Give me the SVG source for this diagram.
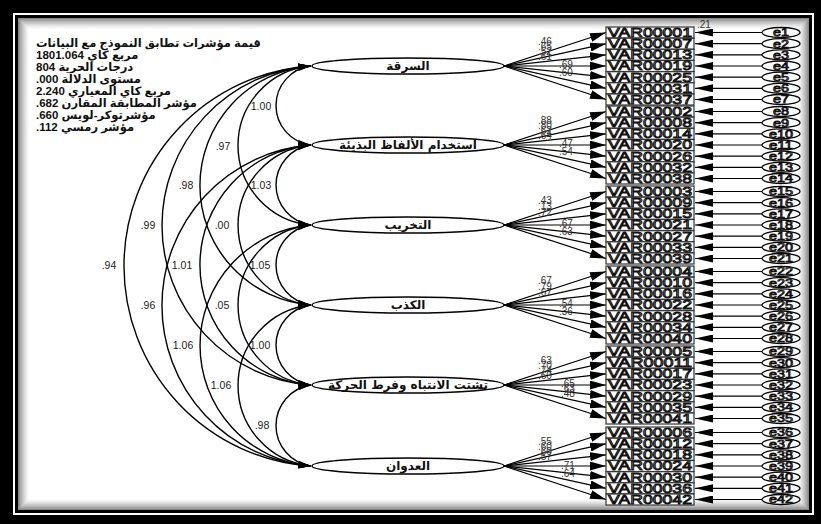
<svg xmlns="http://www.w3.org/2000/svg" width="821" height="524" viewBox="0 0 821 524">
<defs>
<style>
.fit{font-family:"Liberation Sans","DejaVu Sans",sans-serif;font-size:11.5px;font-weight:bold;fill:#111;}
.lat{fill:#fff;stroke:#000;stroke-width:1.5;}
.latt{font-family:"DejaVu Sans",sans-serif;font-size:12px;font-weight:bold;fill:#111;text-anchor:middle;}
.box{fill:#fff;stroke:#333;stroke-width:1.2;}
.boxt{font-family:"Liberation Sans",sans-serif;font-size:12.5px;fill:#fff;stroke:#111;stroke-width:0.9;}
.err{fill:#fff;stroke:#000;stroke-width:1.3;}
.errt{font-family:"Liberation Sans",sans-serif;font-size:10.5px;fill:#fff;stroke:#111;stroke-width:0.8;text-anchor:middle;}
.ln{fill:none;stroke:#000;stroke-width:1.2;}
.ld{marker-end:url(#ah);}
.el{marker-end:url(#ae);}
.cv{fill:none;stroke:#000;stroke-width:1.4;marker-start:url(#ac);marker-end:url(#ac);}
.lbl{font-family:"Liberation Sans",sans-serif;font-size:10px;fill:#333;}
.clbl{font-family:"Liberation Sans",sans-serif;font-size:10.5px;fill:#222;text-anchor:middle;}
</style>
<marker id="ah" markerUnits="userSpaceOnUse" markerWidth="16" markerHeight="9" refX="16" refY="4.5" orient="auto"><path d="M0,0 L16,4.5 L0,9 z" fill="#000"/></marker>
<marker id="ae" markerUnits="userSpaceOnUse" markerWidth="18" markerHeight="8" refX="18" refY="4" orient="auto"><path d="M0,0 L18,4 L0,8 z" fill="#000"/></marker>
<marker id="ac" markerUnits="userSpaceOnUse" markerWidth="13" markerHeight="7" refX="13" refY="3.5" orient="auto-start-reverse"><path d="M0,0 L13,3.5 L0,7 z" fill="#000"/></marker>
</defs>

<g id="frame">
<rect width="821" height="524" fill="#000"/>
<rect x="13" y="13" width="801" height="502" fill="#fff"/>
<rect x="15" y="15" width="797" height="498" fill="#000"/>
<rect x="18" y="18" width="791" height="492" fill="#fff"/>
<g fill="none" stroke-width="1">
<rect x="18.5" y="18.5" width="790" height="491" stroke="#8a8a8a"/>
<rect x="19.5" y="19.5" width="788" height="489" stroke="#999"/>
<rect x="20.5" y="20.5" width="786" height="487" stroke="#a8a8a8"/>
<rect x="21.5" y="21.5" width="784" height="485" stroke="#b5b5b5"/>
<rect x="22.5" y="22.5" width="782" height="483" stroke="#c2c2c2"/>
<rect x="23.5" y="23.5" width="780" height="481" stroke="#cecece"/>
<rect x="24.5" y="24.5" width="778" height="479" stroke="#d9d9d9"/>
<rect x="25.5" y="25.5" width="776" height="477" stroke="#e3e3e3"/>
<rect x="26.5" y="26.5" width="774" height="475" stroke="#ececec"/>
<rect x="27.5" y="27.5" width="772" height="473" stroke="#f4f4f4"/>
<rect x="28.5" y="28.5" width="770" height="471" stroke="#fafafa"/>
</g>
</g>

<g id="fit" class="fit" direction="rtl" text-anchor="end">
<text x="36" y="47">قيمة مؤشرات تطابق النموذج مع البيانات</text>
<text x="36" y="59">مربع كاي 1801.064</text>
<text x="36" y="71">درجات الحرية 804</text>
<text x="36" y="83">مستوى الدلالة &#x2066;.000&#x2069;</text>
<text x="36" y="95">مربع كاي المعياري  2.240</text>
<text x="36" y="107">مؤشر المطابقة المقارن &#x2066;.682&#x2069;</text>
<text x="36" y="119">مؤشرتوكر-لويس &#x2066;.660&#x2069;</text>
<text x="36" y="131">مؤشر رمسي &#x2066;.112&#x2069;</text>
</g>

<g id="connectors">
<path class="cv" d="M311,66 A39.79,39.79 0 0 0 311,145"/>
<path class="cv" d="M311,145 A40.36,40.36 0 0 0 311,225"/>
<path class="cv" d="M311,225 A40.36,40.36 0 0 0 311,305"/>
<path class="cv" d="M311,305 A40.36,40.36 0 0 0 311,385"/>
<path class="cv" d="M311,385 A40.93,40.93 0 0 0 311,466"/>
<path class="cv" d="M311,66 A79.79,79.79 0 0 0 311,225"/>
<path class="cv" d="M311,145 A80.34,80.34 0 0 0 311,305"/>
<path class="cv" d="M311,225 A80.34,80.34 0 0 0 311,385"/>
<path class="cv" d="M311,305 A80.89,80.89 0 0 0 311,466"/>
<path class="cv" d="M311,66 A119.82,119.82 0 0 0 311,305"/>
<path class="cv" d="M311,145 A120.36,120.36 0 0 0 311,385"/>
<path class="cv" d="M311,225 A120.91,120.91 0 0 0 311,466"/>
<path class="cv" d="M311,66 A159.87,159.87 0 0 0 311,385"/>
<path class="cv" d="M311,145 A160.94,160.94 0 0 0 311,466"/>
<path class="cv" d="M311,66 A200.45,200.45 0 0 0 311,466"/>
<g class="clbl">
<text x="261" y="110">1.00</text>
<text x="261" y="189">1.03</text>
<text x="260" y="269">1.05</text>
<text x="260" y="349">1.00</text>
<text x="262" y="429">.98</text>
<text x="223" y="150">.97</text>
<text x="222" y="229">.00</text>
<text x="222" y="309">.05</text>
<text x="221" y="389">1.06</text>
<text x="186" y="189">.98</text>
<text x="182" y="269">1.01</text>
<text x="183" y="349">1.06</text>
<text x="148" y="229">.99</text>
<text x="148" y="309">.96</text>
<text x="109" y="269">.94</text>
</g>
<g class="ln ld">
<path d="M504,66 L606,32.5"/><path d="M504,66 L606,43.7"/><path d="M504,66 L606,54.8"/><path d="M504,66 L606,66"/><path d="M504,66 L606,77.2"/><path d="M504,66 L606,88.3"/><path d="M504,66 L606,99.5"/>
<path d="M504,145 L606,111.5"/><path d="M504,145 L606,122.7"/><path d="M504,145 L606,133.8"/><path d="M504,145 L606,145"/><path d="M504,145 L606,156.2"/><path d="M504,145 L606,167.3"/><path d="M504,145 L606,178.5"/>
<path d="M504,225 L606,191.5"/><path d="M504,225 L606,202.7"/><path d="M504,225 L606,213.8"/><path d="M504,225 L606,225"/><path d="M504,225 L606,236.2"/><path d="M504,225 L606,247.3"/><path d="M504,225 L606,258.5"/>
<path d="M504,305 L606,271.5"/><path d="M504,305 L606,282.7"/><path d="M504,305 L606,293.8"/><path d="M504,305 L606,305"/><path d="M504,305 L606,316.2"/><path d="M504,305 L606,327.3"/><path d="M504,305 L606,338.5"/>
<path d="M504,385 L606,351.5"/><path d="M504,385 L606,362.7"/><path d="M504,385 L606,373.8"/><path d="M504,385 L606,385"/><path d="M504,385 L606,396.2"/><path d="M504,385 L606,407.3"/><path d="M504,385 L606,418.5"/>
<path d="M504,466 L606,432.5"/><path d="M504,466 L606,443.7"/><path d="M504,466 L606,454.8"/><path d="M504,466 L606,466"/><path d="M504,466 L606,477.2"/><path d="M504,466 L606,488.3"/><path d="M504,466 L606,499.5"/>
</g>
<g class="lbl">
<text x="538" y="45">.46</text><text x="538" y="50">.65</text><text x="538" y="55">.52</text><text x="538" y="60">.61</text><text x="559" y="68">.69</text><text x="559" y="76">.60</text>
<text x="538" y="124">.88</text><text x="538" y="129">.80</text><text x="538" y="134">.62</text><text x="538" y="139">.64</text><text x="559" y="147">.47</text><text x="559" y="155">.54</text>
<text x="538" y="204">.43</text><text x="538" y="210">.13</text><text x="538" y="216">.72</text><text x="559" y="227">.67</text><text x="559" y="235">.63</text>
<text x="538" y="284">.67</text><text x="538" y="290">.79</text><text x="538" y="296">.67</text><text x="559" y="307">.54</text><text x="559" y="315">.36</text>
<text x="538" y="364">.63</text><text x="538" y="369">.70</text><text x="538" y="374">.74</text><text x="538" y="379">.60</text><text x="561" y="387">.65</text><text x="561" y="392">.63</text><text x="561" y="397">.48</text>
<text x="538" y="445">.55</text><text x="538" y="450">.60</text><text x="538" y="455">.60</text><text x="538" y="460">.57</text><text x="561" y="469">.71</text><text x="561" y="477">.64</text>
</g>
<g class="ln el">
<path d="M762,32.5 H695"/><path d="M762,43.7 H695"/><path d="M762,54.8 H695"/><path d="M762,66 H695"/><path d="M762,77.2 H695"/><path d="M762,88.3 H695"/><path d="M762,99.5 H695"/>
<path d="M762,111.5 H695"/><path d="M762,122.7 H695"/><path d="M762,133.8 H695"/><path d="M762,145 H695"/><path d="M762,156.2 H695"/><path d="M762,167.3 H695"/><path d="M762,178.5 H695"/>
<path d="M762,191.5 H695"/><path d="M762,202.7 H695"/><path d="M762,213.8 H695"/><path d="M762,225 H695"/><path d="M762,236.2 H695"/><path d="M762,247.3 H695"/><path d="M762,258.5 H695"/>
<path d="M762,271.5 H695"/><path d="M762,282.7 H695"/><path d="M762,293.8 H695"/><path d="M762,305 H695"/><path d="M762,316.2 H695"/><path d="M762,327.3 H695"/><path d="M762,338.5 H695"/>
<path d="M762,351.5 H695"/><path d="M762,362.7 H695"/><path d="M762,373.8 H695"/><path d="M762,385 H695"/><path d="M762,396.2 H695"/><path d="M762,407.3 H695"/><path d="M762,418.5 H695"/>
<path d="M762,432.5 H695"/><path d="M762,443.7 H695"/><path d="M762,454.8 H695"/><path d="M762,466 H695"/><path d="M762,477.2 H695"/><path d="M762,488.3 H695"/><path d="M762,499.5 H695"/>
</g>
<text class="lbl" x="697" y="28" font-size="9">.21</text>
</g>

<g id="latents">
<g id="F1"><ellipse class="lat" cx="408" cy="66" rx="96" ry="8"/><text class="latt" x="408" y="70">السرقة</text></g>
<g id="F2"><ellipse class="lat" cx="408" cy="145" rx="96" ry="8"/><text class="latt" x="408" y="149">استخدام الألفاظ البذيئة</text></g>
<g id="F3"><ellipse class="lat" cx="408" cy="225" rx="96" ry="8"/><text class="latt" x="408" y="229">التخريب</text></g>
<g id="F4"><ellipse class="lat" cx="408" cy="305" rx="96" ry="8"/><text class="latt" x="408" y="309">الكذب</text></g>
<g id="F5"><ellipse class="lat" cx="408" cy="385" rx="96" ry="8"/><text class="latt" x="408" y="389">تشتت الانتباه وفرط الحركة</text></g>
<g id="F6"><ellipse class="lat" cx="408" cy="466" rx="96" ry="8"/><text class="latt" x="408" y="470">العدوان</text></g>
</g>

<g id="observed">
<g id="V01"><rect class="box" x="606" y="27" width="88" height="11"/><text class="boxt" x="608" y="36.8" textLength="84" lengthAdjust="spacingAndGlyphs">VAR00001</text></g>
<g id="V07"><rect class="box" x="606" y="38.2" width="88" height="11"/><text class="boxt" x="608" y="48" textLength="84" lengthAdjust="spacingAndGlyphs">VAR00007</text></g>
<g id="V13"><rect class="box" x="606" y="49.3" width="88" height="11"/><text class="boxt" x="608" y="59.1" textLength="84" lengthAdjust="spacingAndGlyphs">VAR00013</text></g>
<g id="V19"><rect class="box" x="606" y="60.5" width="88" height="11"/><text class="boxt" x="608" y="70.3" textLength="84" lengthAdjust="spacingAndGlyphs">VAR00019</text></g>
<g id="V25"><rect class="box" x="606" y="71.7" width="88" height="11"/><text class="boxt" x="608" y="81.5" textLength="84" lengthAdjust="spacingAndGlyphs">VAR00025</text></g>
<g id="V31"><rect class="box" x="606" y="82.8" width="88" height="11"/><text class="boxt" x="608" y="92.6" textLength="84" lengthAdjust="spacingAndGlyphs">VAR00031</text></g>
<g id="V37"><rect class="box" x="606" y="94" width="88" height="11"/><text class="boxt" x="608" y="103.8" textLength="84" lengthAdjust="spacingAndGlyphs">VAR00037</text></g>

<g id="V02"><rect class="box" x="606" y="106" width="88" height="11"/><text class="boxt" x="608" y="115.8" textLength="84" lengthAdjust="spacingAndGlyphs">VAR00002</text></g>
<g id="V08"><rect class="box" x="606" y="117.2" width="88" height="11"/><text class="boxt" x="608" y="127" textLength="84" lengthAdjust="spacingAndGlyphs">VAR00008</text></g>
<g id="V14"><rect class="box" x="606" y="128.3" width="88" height="11"/><text class="boxt" x="608" y="138.1" textLength="84" lengthAdjust="spacingAndGlyphs">VAR00014</text></g>
<g id="V20"><rect class="box" x="606" y="139.5" width="88" height="11"/><text class="boxt" x="608" y="149.3" textLength="84" lengthAdjust="spacingAndGlyphs">VAR00020</text></g>
<g id="V26"><rect class="box" x="606" y="150.7" width="88" height="11"/><text class="boxt" x="608" y="160.5" textLength="84" lengthAdjust="spacingAndGlyphs">VAR00026</text></g>
<g id="V32"><rect class="box" x="606" y="161.8" width="88" height="11"/><text class="boxt" x="608" y="171.6" textLength="84" lengthAdjust="spacingAndGlyphs">VAR00032</text></g>
<g id="V38"><rect class="box" x="606" y="173" width="88" height="11"/><text class="boxt" x="608" y="182.8" textLength="84" lengthAdjust="spacingAndGlyphs">VAR00038</text></g>

<g id="V03"><rect class="box" x="606" y="186" width="88" height="11"/><text class="boxt" x="608" y="195.8" textLength="84" lengthAdjust="spacingAndGlyphs">VAR00003</text></g>
<g id="V09"><rect class="box" x="606" y="197.2" width="88" height="11"/><text class="boxt" x="608" y="207" textLength="84" lengthAdjust="spacingAndGlyphs">VAR00009</text></g>
<g id="V15"><rect class="box" x="606" y="208.3" width="88" height="11"/><text class="boxt" x="608" y="218.1" textLength="84" lengthAdjust="spacingAndGlyphs">VAR00015</text></g>
<g id="V21"><rect class="box" x="606" y="219.5" width="88" height="11"/><text class="boxt" x="608" y="229.3" textLength="84" lengthAdjust="spacingAndGlyphs">VAR00021</text></g>
<g id="V27"><rect class="box" x="606" y="230.7" width="88" height="11"/><text class="boxt" x="608" y="240.5" textLength="84" lengthAdjust="spacingAndGlyphs">VAR00027</text></g>
<g id="V33"><rect class="box" x="606" y="241.8" width="88" height="11"/><text class="boxt" x="608" y="251.6" textLength="84" lengthAdjust="spacingAndGlyphs">VAR00033</text></g>
<g id="V39"><rect class="box" x="606" y="253" width="88" height="11"/><text class="boxt" x="608" y="262.8" textLength="84" lengthAdjust="spacingAndGlyphs">VAR00039</text></g>

<g id="V04"><rect class="box" x="606" y="266" width="88" height="11"/><text class="boxt" x="608" y="275.8" textLength="84" lengthAdjust="spacingAndGlyphs">VAR00004</text></g>
<g id="V10"><rect class="box" x="606" y="277.2" width="88" height="11"/><text class="boxt" x="608" y="287" textLength="84" lengthAdjust="spacingAndGlyphs">VAR00010</text></g>
<g id="V16"><rect class="box" x="606" y="288.3" width="88" height="11"/><text class="boxt" x="608" y="298.1" textLength="84" lengthAdjust="spacingAndGlyphs">VAR00016</text></g>
<g id="V22"><rect class="box" x="606" y="299.5" width="88" height="11"/><text class="boxt" x="608" y="309.3" textLength="84" lengthAdjust="spacingAndGlyphs">VAR00022</text></g>
<g id="V28"><rect class="box" x="606" y="310.7" width="88" height="11"/><text class="boxt" x="608" y="320.5" textLength="84" lengthAdjust="spacingAndGlyphs">VAR00028</text></g>
<g id="V34"><rect class="box" x="606" y="321.8" width="88" height="11"/><text class="boxt" x="608" y="331.6" textLength="84" lengthAdjust="spacingAndGlyphs">VAR00034</text></g>
<g id="V40"><rect class="box" x="606" y="333" width="88" height="11"/><text class="boxt" x="608" y="342.8" textLength="84" lengthAdjust="spacingAndGlyphs">VAR00040</text></g>

<g id="V05"><rect class="box" x="606" y="346" width="88" height="11"/><text class="boxt" x="608" y="355.8" textLength="84" lengthAdjust="spacingAndGlyphs">VAR00005</text></g>
<g id="V11"><rect class="box" x="606" y="357.2" width="88" height="11"/><text class="boxt" x="608" y="367" textLength="84" lengthAdjust="spacingAndGlyphs">VAR00011</text></g>
<g id="V17"><rect class="box" x="606" y="368.3" width="88" height="11"/><text class="boxt" x="608" y="378.1" textLength="84" lengthAdjust="spacingAndGlyphs">VAR00017</text></g>
<g id="V23"><rect class="box" x="606" y="379.5" width="88" height="11"/><text class="boxt" x="608" y="389.3" textLength="84" lengthAdjust="spacingAndGlyphs">VAR00023</text></g>
<g id="V29"><rect class="box" x="606" y="390.7" width="88" height="11"/><text class="boxt" x="608" y="400.5" textLength="84" lengthAdjust="spacingAndGlyphs">VAR00029</text></g>
<g id="V35"><rect class="box" x="606" y="401.8" width="88" height="11"/><text class="boxt" x="608" y="411.6" textLength="84" lengthAdjust="spacingAndGlyphs">VAR00035</text></g>
<g id="V41"><rect class="box" x="606" y="413" width="88" height="11"/><text class="boxt" x="608" y="422.8" textLength="84" lengthAdjust="spacingAndGlyphs">VAR00041</text></g>

<g id="V06"><rect class="box" x="606" y="427" width="88" height="11"/><text class="boxt" x="608" y="436.8" textLength="84" lengthAdjust="spacingAndGlyphs">VAR00006</text></g>
<g id="V12"><rect class="box" x="606" y="438.2" width="88" height="11"/><text class="boxt" x="608" y="448" textLength="84" lengthAdjust="spacingAndGlyphs">VAR00012</text></g>
<g id="V18"><rect class="box" x="606" y="449.3" width="88" height="11"/><text class="boxt" x="608" y="459.1" textLength="84" lengthAdjust="spacingAndGlyphs">VAR00018</text></g>
<g id="V24"><rect class="box" x="606" y="460.5" width="88" height="11"/><text class="boxt" x="608" y="470.3" textLength="84" lengthAdjust="spacingAndGlyphs">VAR00024</text></g>
<g id="V30"><rect class="box" x="606" y="471.7" width="88" height="11"/><text class="boxt" x="608" y="481.5" textLength="84" lengthAdjust="spacingAndGlyphs">VAR00030</text></g>
<g id="V36"><rect class="box" x="606" y="482.8" width="88" height="11"/><text class="boxt" x="608" y="492.6" textLength="84" lengthAdjust="spacingAndGlyphs">VAR00036</text></g>
<g id="V42"><rect class="box" x="606" y="494" width="88" height="11"/><text class="boxt" x="608" y="503.8" textLength="84" lengthAdjust="spacingAndGlyphs">VAR00042</text></g>
</g>

<g id="errors">
<g id="e1"><ellipse class="err" cx="781" cy="32.5" rx="19" ry="5"/><text class="errt" x="781" y="36.3" textLength="16" lengthAdjust="spacingAndGlyphs">e1</text></g>
<g id="e2"><ellipse class="err" cx="781" cy="43.7" rx="19" ry="5"/><text class="errt" x="781" y="47.5" textLength="16" lengthAdjust="spacingAndGlyphs">e2</text></g>
<g id="e3"><ellipse class="err" cx="781" cy="54.8" rx="19" ry="5"/><text class="errt" x="781" y="58.6" textLength="16" lengthAdjust="spacingAndGlyphs">e3</text></g>
<g id="e4"><ellipse class="err" cx="781" cy="66" rx="19" ry="5"/><text class="errt" x="781" y="69.8" textLength="16" lengthAdjust="spacingAndGlyphs">e4</text></g>
<g id="e5"><ellipse class="err" cx="781" cy="77.2" rx="19" ry="5"/><text class="errt" x="781" y="81" textLength="16" lengthAdjust="spacingAndGlyphs">e5</text></g>
<g id="e6"><ellipse class="err" cx="781" cy="88.3" rx="19" ry="5"/><text class="errt" x="781" y="92.1" textLength="16" lengthAdjust="spacingAndGlyphs">e6</text></g>
<g id="e7"><ellipse class="err" cx="781" cy="99.5" rx="19" ry="5"/><text class="errt" x="781" y="103.3" textLength="16" lengthAdjust="spacingAndGlyphs">e7</text></g>
<g id="e8"><ellipse class="err" cx="781" cy="111.5" rx="19" ry="5"/><text class="errt" x="781" y="115.3" textLength="16" lengthAdjust="spacingAndGlyphs">e8</text></g>
<g id="e9"><ellipse class="err" cx="781" cy="122.7" rx="19" ry="5"/><text class="errt" x="781" y="126.5" textLength="16" lengthAdjust="spacingAndGlyphs">e9</text></g>
<g id="e10"><ellipse class="err" cx="781" cy="133.8" rx="19" ry="5"/><text class="errt" x="781" y="137.6" textLength="24" lengthAdjust="spacingAndGlyphs">e10</text></g>
<g id="e11"><ellipse class="err" cx="781" cy="145" rx="19" ry="5"/><text class="errt" x="781" y="148.8" textLength="24" lengthAdjust="spacingAndGlyphs">e11</text></g>
<g id="e12"><ellipse class="err" cx="781" cy="156.2" rx="19" ry="5"/><text class="errt" x="781" y="160" textLength="24" lengthAdjust="spacingAndGlyphs">e12</text></g>
<g id="e13"><ellipse class="err" cx="781" cy="167.3" rx="19" ry="5"/><text class="errt" x="781" y="171.1" textLength="24" lengthAdjust="spacingAndGlyphs">e13</text></g>
<g id="e14"><ellipse class="err" cx="781" cy="178.5" rx="19" ry="5"/><text class="errt" x="781" y="182.3" textLength="24" lengthAdjust="spacingAndGlyphs">e14</text></g>
<g id="e15"><ellipse class="err" cx="781" cy="191.5" rx="19" ry="5"/><text class="errt" x="781" y="195.3" textLength="24" lengthAdjust="spacingAndGlyphs">e15</text></g>
<g id="e16"><ellipse class="err" cx="781" cy="202.7" rx="19" ry="5"/><text class="errt" x="781" y="206.5" textLength="24" lengthAdjust="spacingAndGlyphs">e16</text></g>
<g id="e17"><ellipse class="err" cx="781" cy="213.8" rx="19" ry="5"/><text class="errt" x="781" y="217.6" textLength="24" lengthAdjust="spacingAndGlyphs">e17</text></g>
<g id="e18"><ellipse class="err" cx="781" cy="225" rx="19" ry="5"/><text class="errt" x="781" y="228.8" textLength="24" lengthAdjust="spacingAndGlyphs">e18</text></g>
<g id="e19"><ellipse class="err" cx="781" cy="236.2" rx="19" ry="5"/><text class="errt" x="781" y="240" textLength="24" lengthAdjust="spacingAndGlyphs">e19</text></g>
<g id="e20"><ellipse class="err" cx="781" cy="247.3" rx="19" ry="5"/><text class="errt" x="781" y="251.1" textLength="24" lengthAdjust="spacingAndGlyphs">e20</text></g>
<g id="e21"><ellipse class="err" cx="781" cy="258.5" rx="19" ry="5"/><text class="errt" x="781" y="262.3" textLength="24" lengthAdjust="spacingAndGlyphs">e21</text></g>
<g id="e22"><ellipse class="err" cx="781" cy="271.5" rx="19" ry="5"/><text class="errt" x="781" y="275.3" textLength="24" lengthAdjust="spacingAndGlyphs">e22</text></g>
<g id="e23"><ellipse class="err" cx="781" cy="282.7" rx="19" ry="5"/><text class="errt" x="781" y="286.5" textLength="24" lengthAdjust="spacingAndGlyphs">e23</text></g>
<g id="e24"><ellipse class="err" cx="781" cy="293.8" rx="19" ry="5"/><text class="errt" x="781" y="297.6" textLength="24" lengthAdjust="spacingAndGlyphs">e24</text></g>
<g id="e25"><ellipse class="err" cx="781" cy="305" rx="19" ry="5"/><text class="errt" x="781" y="308.8" textLength="24" lengthAdjust="spacingAndGlyphs">e25</text></g>
<g id="e26"><ellipse class="err" cx="781" cy="316.2" rx="19" ry="5"/><text class="errt" x="781" y="320" textLength="24" lengthAdjust="spacingAndGlyphs">e26</text></g>
<g id="e27"><ellipse class="err" cx="781" cy="327.3" rx="19" ry="5"/><text class="errt" x="781" y="331.1" textLength="24" lengthAdjust="spacingAndGlyphs">e27</text></g>
<g id="e28"><ellipse class="err" cx="781" cy="338.5" rx="19" ry="5"/><text class="errt" x="781" y="342.3" textLength="24" lengthAdjust="spacingAndGlyphs">e28</text></g>
<g id="e29"><ellipse class="err" cx="781" cy="351.5" rx="19" ry="5"/><text class="errt" x="781" y="355.3" textLength="24" lengthAdjust="spacingAndGlyphs">e29</text></g>
<g id="e30"><ellipse class="err" cx="781" cy="362.7" rx="19" ry="5"/><text class="errt" x="781" y="366.5" textLength="24" lengthAdjust="spacingAndGlyphs">e30</text></g>
<g id="e31"><ellipse class="err" cx="781" cy="373.8" rx="19" ry="5"/><text class="errt" x="781" y="377.6" textLength="24" lengthAdjust="spacingAndGlyphs">e31</text></g>
<g id="e32"><ellipse class="err" cx="781" cy="385" rx="19" ry="5"/><text class="errt" x="781" y="388.8" textLength="24" lengthAdjust="spacingAndGlyphs">e32</text></g>
<g id="e33"><ellipse class="err" cx="781" cy="396.2" rx="19" ry="5"/><text class="errt" x="781" y="400" textLength="24" lengthAdjust="spacingAndGlyphs">e33</text></g>
<g id="e34"><ellipse class="err" cx="781" cy="407.3" rx="19" ry="5"/><text class="errt" x="781" y="411.1" textLength="24" lengthAdjust="spacingAndGlyphs">e34</text></g>
<g id="e35"><ellipse class="err" cx="781" cy="418.5" rx="19" ry="5"/><text class="errt" x="781" y="422.3" textLength="24" lengthAdjust="spacingAndGlyphs">e35</text></g>
<g id="e36"><ellipse class="err" cx="781" cy="432.5" rx="19" ry="5"/><text class="errt" x="781" y="436.3" textLength="24" lengthAdjust="spacingAndGlyphs">e36</text></g>
<g id="e37"><ellipse class="err" cx="781" cy="443.7" rx="19" ry="5"/><text class="errt" x="781" y="447.5" textLength="24" lengthAdjust="spacingAndGlyphs">e37</text></g>
<g id="e38"><ellipse class="err" cx="781" cy="454.8" rx="19" ry="5"/><text class="errt" x="781" y="458.6" textLength="24" lengthAdjust="spacingAndGlyphs">e38</text></g>
<g id="e39"><ellipse class="err" cx="781" cy="466" rx="19" ry="5"/><text class="errt" x="781" y="469.8" textLength="24" lengthAdjust="spacingAndGlyphs">e39</text></g>
<g id="e40"><ellipse class="err" cx="781" cy="477.2" rx="19" ry="5"/><text class="errt" x="781" y="481" textLength="24" lengthAdjust="spacingAndGlyphs">e40</text></g>
<g id="e41"><ellipse class="err" cx="781" cy="488.3" rx="19" ry="5"/><text class="errt" x="781" y="492.1" textLength="24" lengthAdjust="spacingAndGlyphs">e41</text></g>
<g id="e42"><ellipse class="err" cx="781" cy="499.5" rx="19" ry="5"/><text class="errt" x="781" y="503.3" textLength="24" lengthAdjust="spacingAndGlyphs">e42</text></g>
</g>
</svg>
